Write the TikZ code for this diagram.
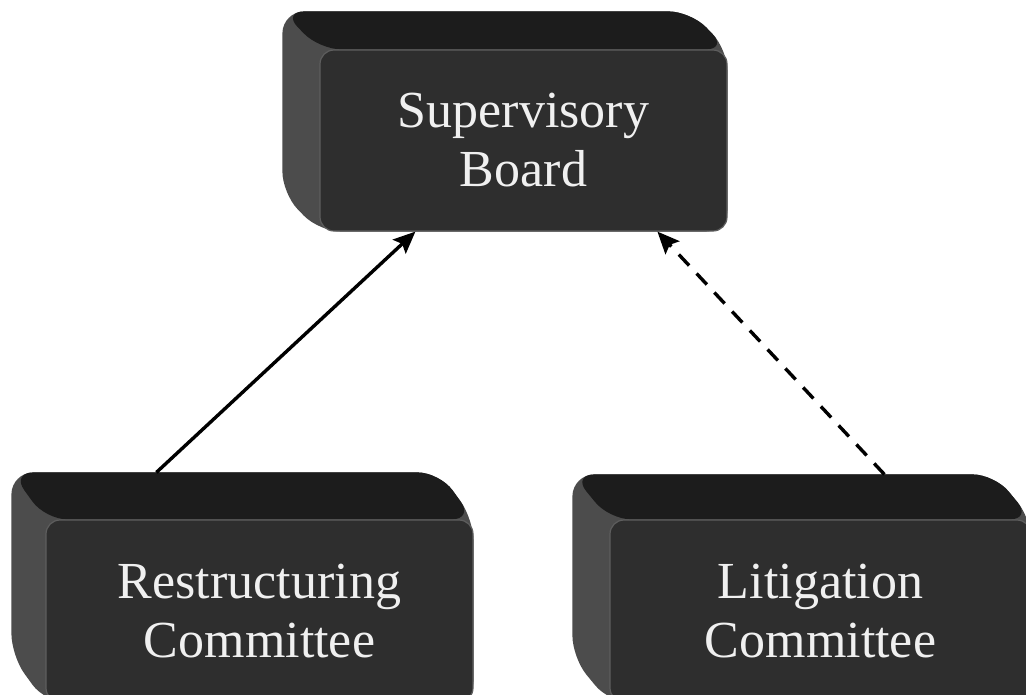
\documentclass[tikz,border=0pt]{standalone}
\usepackage{fontspec}
\setmainfont{Liberation Serif}
\usetikzlibrary{calc,arrows.meta,backgrounds}

\definecolor{bevelTop}{HTML}{1C1C1C}
\definecolor{bevelSide}{HTML}{4C4C4C}
\definecolor{faceFill}{HTML}{2E2E2E}
\definecolor{faceEdge}{HTML}{5E5E5E}
\definecolor{labelInk}{HTML}{F0F0F0}

\tikzset{
  face/.style={rectangle, rounded corners=14pt, fill=faceFill, draw=faceEdge,
    line width=1.2pt, text=labelInk, font=\fontsize{52}{59}\selectfont,
    align=center, inner sep=0pt},
  link/.style={line width=3.4pt, -{Stealth[length=22pt,width=19pt,inset=4pt]}},
  dashlink/.style={link, dash pattern=on 15pt off 11pt},
}

% extruded back of a block: #1 node, #2 depth to the left, #3 depth upwards
\newcommand\blockback[3]{%
  \fill[bevelSide, rounded corners=22pt]
    ($(#1.north west)+(-#2,-#3)$) -- ($(#1.north east)+(-#2,-#3)$)
    -- (#1.north east) -- (#1.south east) -- (#1.south west)
    -- ($(#1.south west)+(-#2,-#3)$) -- cycle;
  \fill[bevelTop, rounded corners=22pt]
    ($(#1.north west)+(-#2,-#3)$) -- ($(#1.north east)+(-#2,-#3)$)
    -- (#1.north east) -- (#1.north west) -- cycle;
}

\begin{document}
\begin{tikzpicture}[x=1pt,y=-1pt]
  \useasboundingbox (0,0) rectangle (1026,694);

  \node[face, minimum width=407pt, minimum height=181pt] (sb) at (523.5,140.5)
    {Supervisory\\Board};
  \node[face, minimum width=427pt, minimum height=182pt] (rc) at (259.5,611)
    {Restructuring\\Committee};
  \node[face, minimum width=421pt, minimum height=182pt] (lc) at (820.5,611)
    {Litigation\\Committee};

  \begin{scope}[on background layer]
    \blockback{sb}{37}{38}
    \blockback{rc}{34}{47}
    \blockback{lc}{37}{45}
  \end{scope}

  \coordinate (rc-top)   at ($(rc.north west)+(111,-47)$);
  \coordinate (lc-top)   at ($(lc.north west)+(275,-45)$);
  \coordinate (sb-left)  at ($(sb.south west)+(96,0)$);
  \coordinate (sb-right) at ($(sb.south west)+(338,0)$);

  \draw[link] (rc-top) -- (sb-left);
  \draw[dashlink] (lc-top) -- (sb-right);
\end{tikzpicture}
\end{document}
